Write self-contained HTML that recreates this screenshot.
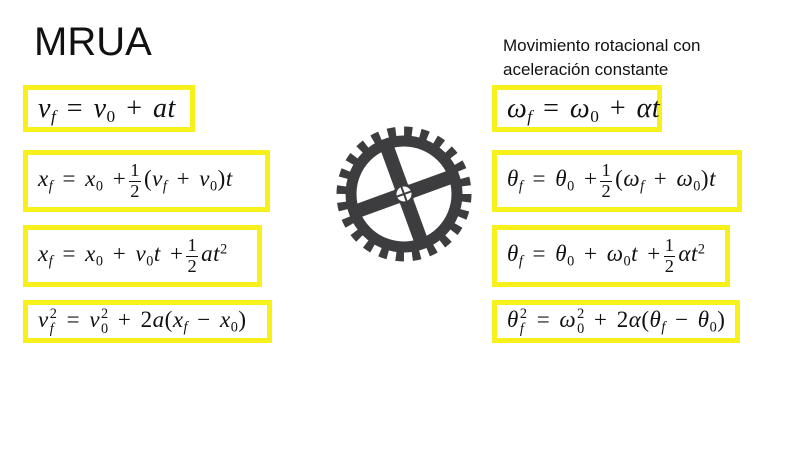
<!DOCTYPE html>
<html><head><meta charset="utf-8"><style>
body{margin:0;width:800px;height:450px;background:#fff;position:relative;overflow:hidden;font-family:"Liberation Sans",sans-serif}
.b{position:absolute;box-sizing:border-box;border:5px solid #f7f01a;display:flex;align-items:center;padding-left:10px;font-family:"Liberation Serif",serif;font-style:italic;color:#111;white-space:nowrap;word-spacing:3px;letter-spacing:0.5px}
.b1{font-size:28px}.b2{font-size:23px}
.u{font-style:normal}
sub{font-size:62%;vertical-align:-0.3em;line-height:0}
sup{font-size:62%;vertical-align:0.55em;line-height:0}
.ss{display:inline-flex;flex-direction:column;vertical-align:middle;font-size:62%;line-height:1;margin-left:1px}
.fr{display:inline-flex;flex-direction:column;align-items:center;vertical-align:middle;font-style:normal;font-size:80%;line-height:1.05;margin:0 3px}
.fr span:first-child{border-bottom:1px solid #111;padding:0 1px}
</style></head><body>
<div style="position:absolute;left:34px;top:20px;font-size:40px;color:#111">MRUA</div>
<div style="position:absolute;left:503px;top:34px;font-size:17px;line-height:24px;color:#111">Movimiento rotacional con<br>aceleración constante</div>

<div class="b b1" style="left:23px;top:85px;width:172px;height:47px"><span>v<sub>f</sub> <span class="u">=</span> v<sub class="u">0</sub> <span class="u">+</span> at</span></div>
<div class="b b2" style="left:23px;top:150px;width:247px;height:62px"><span>x<sub>f</sub> <span class="u">=</span> x<sub class="u">0</sub> <span class="u">+</span><span class="fr"><span>1</span><span>2</span></span><span class="u">(</span>v<sub>f</sub> <span class="u">+</span> v<sub class="u">0</sub><span class="u">)</span>t</span></div>
<div class="b b2" style="left:23px;top:225px;width:239px;height:62px"><span>x<sub>f</sub> <span class="u">=</span> x<sub class="u">0</sub> <span class="u">+</span> v<sub class="u">0</sub>t <span class="u">+</span><span class="fr"><span>1</span><span>2</span></span>at<sup class="u">2</sup></span></div>
<div class="b b2" style="left:23px;top:300px;width:249px;height:43px"><span>v<span class="ss"><span class="u">2</span><span>f</span></span> <span class="u">=</span> v<span class="ss"><span class="u">2</span><span class="u">0</span></span> <span class="u">+</span> <span class="u">2</span>a<span class="u">(</span>x<sub>f</sub> <span class="u">−</span> x<sub class="u">0</sub><span class="u">)</span></span></div>

<div class="b b1" style="left:492px;top:85px;width:170px;height:47px"><span>ω<sub>f</sub> <span class="u">=</span> ω<sub class="u">0</sub> <span class="u">+</span> αt</span></div>
<div class="b b2" style="left:492px;top:150px;width:250px;height:62px"><span>θ<sub>f</sub> <span class="u">=</span> θ<sub class="u">0</sub> <span class="u">+</span><span class="fr"><span>1</span><span>2</span></span><span class="u">(</span>ω<sub>f</sub> <span class="u">+</span> ω<sub class="u">0</sub><span class="u">)</span>t</span></div>
<div class="b b2" style="left:492px;top:225px;width:238px;height:62px"><span>θ<sub>f</sub> <span class="u">=</span> θ<sub class="u">0</sub> <span class="u">+</span> ω<sub class="u">0</sub>t <span class="u">+</span><span class="fr"><span>1</span><span>2</span></span>αt<sup class="u">2</sup></span></div>
<div class="b b2" style="left:492px;top:300px;width:248px;height:43px"><span>θ<span class="ss"><span class="u">2</span><span>f</span></span> <span class="u">=</span> ω<span class="ss"><span class="u">2</span><span class="u">0</span></span> <span class="u">+</span> <span class="u">2</span>α<span class="u">(</span>θ<sub>f</sub> <span class="u">−</span> θ<sub class="u">0</sub><span class="u">)</span></span></div>

<svg style="position:absolute;left:0;top:0" width="800" height="450">
<g transform="translate(404,194)" fill="none" stroke="#3d3d3f">
<circle r="62" stroke-width="11" stroke-dasharray="8 8.23"/>
<circle r="53" stroke-width="11"/>
<g transform="rotate(-20)">
<rect x="-52" y="-7" width="104" height="14" fill="#3d3d3f" stroke="none"/>
<rect x="-7" y="-52" width="14" height="104" fill="#3d3d3f" stroke="none"/>
</g>
<circle r="9" stroke-width="3" fill="#fff"/>
<g transform="rotate(-20)" stroke-width="2"><line x1="-9" y1="0" x2="9" y2="0"/><line x1="0" y1="-9" x2="0" y2="9"/></g>
</g>
</svg>
</body></html>
